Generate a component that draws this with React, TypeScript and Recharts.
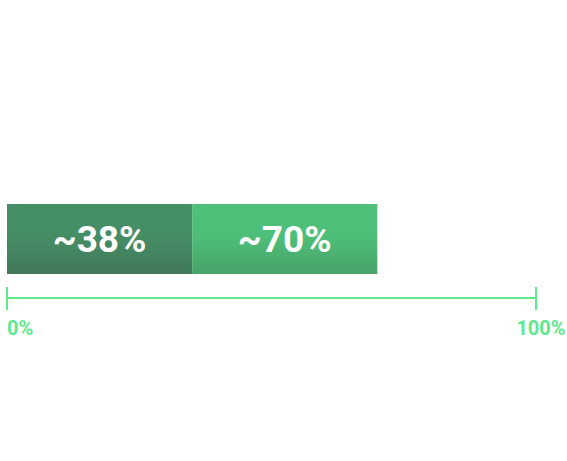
import { BarChart, Bar, XAxis, YAxis, LabelList } from 'recharts';

const categories = ['share'];
const firstValues = [35];
const secondValues = [35];
const firstLabels = ['~38%'];
const secondLabels = ['~70%'];
const tickValues = [0, 100];
const tickLabels = ['0%', '100%'];

const data = categories.map((name, i) => ({
  name,
  first: firstValues[i],
  second: secondValues[i],
  firstLabel: firstLabels[i],
  secondLabel: secondLabels[i],
}));

const FONT = 'Roboto, "Noto Sans", sans-serif';

function AxisTick(props: any) {
  const { x, y, payload, index } = props;
  const label = tickLabels[tickValues.indexOf(payload.value)] ?? '';
  const anchor = index === 0 ? 'start' : 'middle';
  const dx = index === 0 ? 0 : 5;
  return (
    <g>
      <line x1={x} x2={x} y1={y - 11} y2={y + 12} stroke="#5ee891" strokeWidth={2} />
      <text
        x={x + dx}
        y={y + 37}
        textAnchor={anchor}
        fill="#5ee891"
        fontFamily={FONT}
        fontWeight={700}
        fontSize={20}
      >
        {label}
      </text>
    </g>
  );
}

export default function App() {
  return (
    <div style={{ position: 'absolute', left: 0, top: 0 }}>
      <BarChart
        width={567}
        height={461}
        data={data}
        layout="vertical"
        margin={{ top: 204, right: 31, bottom: 162, left: 7 }}
        barCategoryGap={0}
      >
        <defs>
          <linearGradient id="gDark" x1="0" y1="0" x2="0" y2="1">
            <stop offset="0%" stopColor="#458e66" />
            <stop offset="45%" stopColor="#458d65" />
            <stop offset="100%" stopColor="#42795a" />
          </linearGradient>
          <linearGradient id="gLight" x1="0" y1="0" x2="0" y2="1">
            <stop offset="0%" stopColor="#4ec07a" />
            <stop offset="45%" stopColor="#4ebf79" />
            <stop offset="100%" stopColor="#49a36a" />
          </linearGradient>
        </defs>
        <XAxis
          type="number"
          domain={[0, 100]}
          ticks={tickValues}
          axisLine={{ stroke: '#5ee891', strokeWidth: 2 }}
          tickLine={false}
          tickSize={0}
          tickMargin={0}
          tick={<AxisTick />}
          height={1}
        />
        <YAxis type="category" dataKey="name" hide padding={{ top: 0, bottom: 24 }} />
        <Bar dataKey="first" stackId="a" fill="url(#gDark)" isAnimationActive={false}>
          <LabelList
            dataKey="firstLabel"
            position="center"
            fill="#ffffff"
            fontFamily={FONT}
            fontWeight={700}
            fontSize={37}
          />
        </Bar>
        <Bar dataKey="second" stackId="a" fill="url(#gLight)" isAnimationActive={false}>
          <LabelList
            dataKey="secondLabel"
            position="center"
            fill="#ffffff"
            fontFamily={FONT}
            fontWeight={700}
            fontSize={37}
          />
        </Bar>
      </BarChart>
    </div>
  );
}
